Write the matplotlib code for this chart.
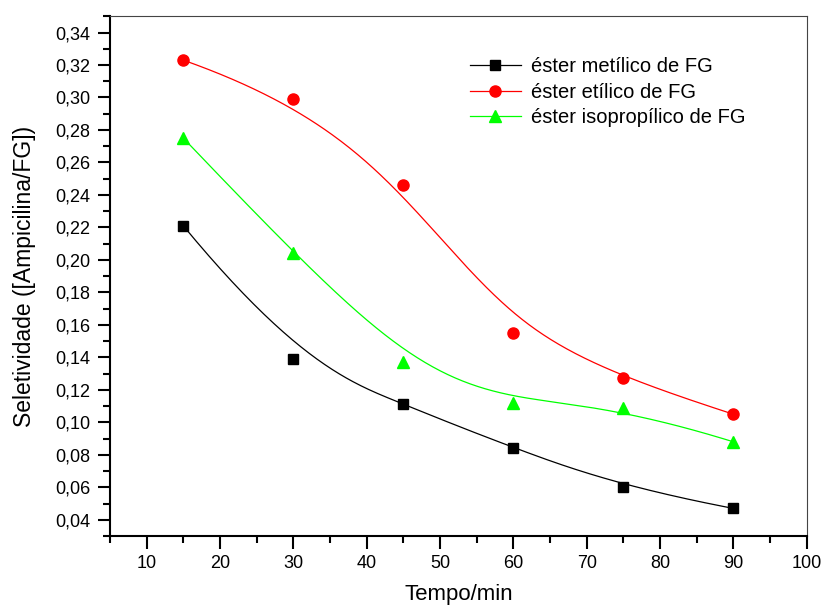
import numpy as np
import matplotlib
matplotlib.use("Agg")
import matplotlib.pyplot as plt
from matplotlib.ticker import MultipleLocator, FuncFormatter

plt.rcParams['font.family'] = ['Liberation Sans', 'DejaVu Sans']

tempo = [15, 30, 45, 60, 75, 90]
metilico = [0.221, 0.139, 0.111, 0.084, 0.060, 0.047]
etilico = [0.323, 0.299, 0.246, 0.155, 0.127, 0.105]
isopropilico = [0.275, 0.204, 0.137, 0.112, 0.109, 0.088]


def bspline(xs, ys, k=3, n=300):
    '''Clamped B-spline using the data points as control points.'''
    pts = np.column_stack([xs, ys]).astype(float)
    m = len(pts)
    inner = np.linspace(0, 1, m - k + 1)
    knots = np.concatenate([[0] * k, inner, [1] * k])
    t = np.linspace(0, 1, n)
    t[-1] -= 1e-9

    def basis(i, p, t):
        if p == 0:
            return ((knots[i] <= t) & (t < knots[i + 1])).astype(float)
        out = np.zeros_like(t)
        d1 = knots[i + p] - knots[i]
        d2 = knots[i + p + 1] - knots[i + 1]
        if d1 > 0:
            out += (t - knots[i]) / d1 * basis(i, p - 1, t)
        if d2 > 0:
            out += (knots[i + p + 1] - t) / d2 * basis(i + 1, p - 1, t)
        return out

    B = np.array([basis(i, k, t) for i in range(m)])
    curve = B.T @ pts
    return curve[:, 0], curve[:, 1]


fig = plt.figure(figsize=(8.25, 6.1), dpi=100)
ax = fig.add_axes([0.1333, 0.1213, 0.8445, 0.852])

series = [
    (metilico, 'black', 's', 7.5, 'éster metílico de FG'),
    (etilico, 'red', 'o', 8, 'éster etílico de FG'),
    (isopropilico, '#00ff00', '^', 9, 'éster isopropílico de FG'),
]
for vals, col, mk, ms, lab in series:
    cx, cy = bspline(tempo, vals)
    ax.plot(cx, cy, color=col, lw=0.9)
    ax.plot(tempo, vals, linestyle='none', marker=mk, ms=ms, color=col)
    ax.plot([], [], color=col, lw=0.9, marker=mk, ms=ms, label=lab)

ax.set_xlim(5, 100)
ax.set_ylim(0.03, 0.35)
ax.xaxis.set_major_locator(MultipleLocator(10))
ax.xaxis.set_minor_locator(MultipleLocator(5))
ax.yaxis.set_major_locator(MultipleLocator(0.02))
ax.yaxis.set_minor_locator(MultipleLocator(0.01))
ax.xaxis.set_major_formatter(FuncFormatter(lambda v, p: '' if v < 10 else f'{v:.0f}'))
ax.yaxis.set_major_formatter(FuncFormatter(lambda v, p: f'{v:.2f}'.replace('.', ',')))

ax.tick_params(which='both', direction='out', width=1.5, labelsize=13,
               top=False, right=False, color='black')
ax.tick_params(which='major', length=9, pad=5)
ax.tick_params(which='minor', length=5)
ax.spines['left'].set_linewidth(1.5)
ax.spines['bottom'].set_linewidth(1.5)
ax.spines['top'].set_linewidth(0.8)
ax.spines['right'].set_linewidth(0.8)
ax.spines['top'].set_color('#444444')
ax.spines['right'].set_color('#444444')

ax.set_xlabel('Tempo/min', fontsize=16, labelpad=8)
ax.set_ylabel('Seletividade ([Ampicilina/FG])', fontsize=16.5, labelpad=14)

ax.legend(loc='upper left', bbox_to_anchor=(0.5056, 0.937), frameon=False,
          fontsize=14.5, handlelength=2.5, handletextpad=0.5,
          labelspacing=0.33, borderaxespad=0)

fig.savefig('out.png', dpi=100)
